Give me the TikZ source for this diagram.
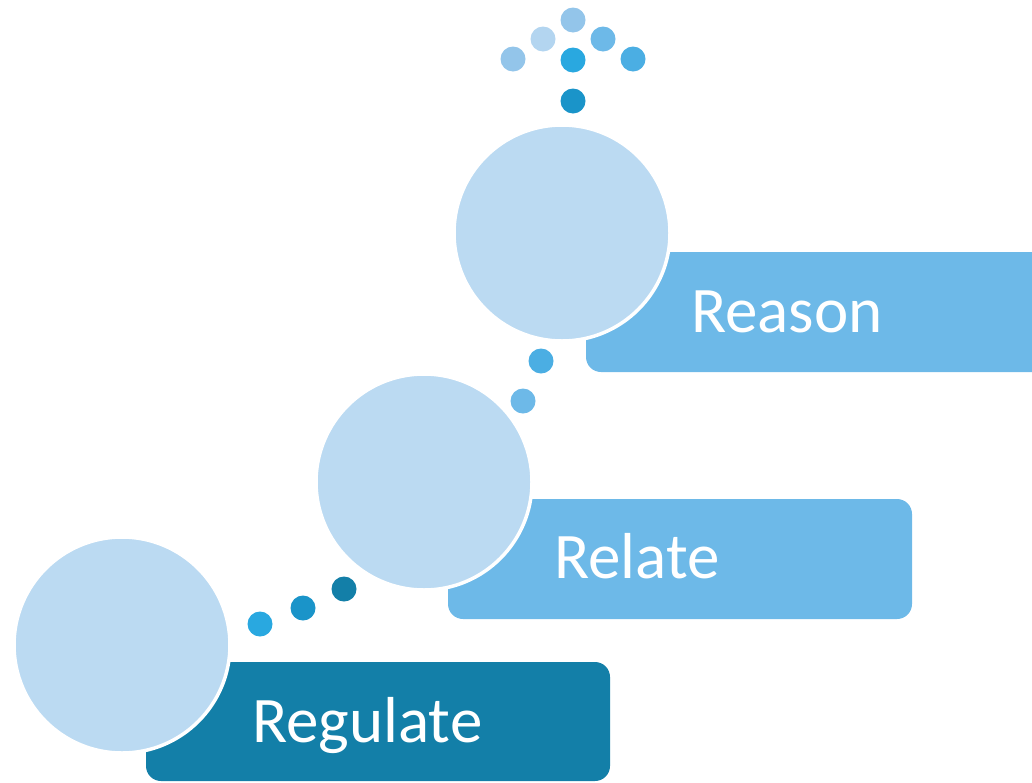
\documentclass[tikz,border=0pt]{standalone}
\usepackage{fontspec}
\setmainfont{Carlito}
\definecolor{deepblue}{HTML}{137FA8}
\definecolor{midblue}{HTML}{1A94C9}
\definecolor{brightblue}{HTML}{29A8E0}
\definecolor{skyblue}{HTML}{4BAEE3}
\definecolor{softblue}{HTML}{6DB9E8}
\definecolor{paleblue}{HTML}{93C5EA}
\definecolor{mistblue}{HTML}{B3D5F0}
\definecolor{discblue}{HTML}{BBDAF2}
\begin{document}
\begin{tikzpicture}[x=1pt,y=-1pt,
  stagebox/.style={rounded corners=15pt},
  disc/.style={circle,fill=discblue,draw=white,line width=3.5pt,minimum size=216pt,inner sep=0pt},
  dot/.style={circle,fill=#1,minimum size=25pt,inner sep=0pt},
  label/.style={text=white,font=\fontsize{65}{70}\selectfont,anchor=base west,inner sep=0pt}]
\useasboundingbox (0,0) rectangle (1032,782);
\clip (0,0) rectangle (1032,782);

% step boxes
\fill[softblue,stagebox] (586,252) rectangle (1060,372);
\fill[softblue,stagebox] (448,499) rectangle (912,619);
\fill[deepblue,stagebox] (146,662) rectangle (610,781);

% stage discs
\node[disc] (reasondisc) at (562,233) {};
\node[disc] (relatedisc) at (424,482) {};
\node[disc] (regulatedisc) at (122,645) {};

% labels
\node[label] (reason) at (691,332) {Reason};
\node[label] (relate) at (554,578) {Relate};
\node[label] (regulate) at (252,742) {Regulate};

% dotted trail between the first two stages
\node[dot=brightblue] (d1) at (260,624) {};
\node[dot=midblue] (d2) at (303,608) {};
\node[dot=deepblue] (d3) at (344,589) {};

% dotted trail between the second and third stages
\node[dot=softblue] (d4) at (523,401) {};
\node[dot=skyblue] (d5) at (541,361) {};

% arrow of dots above the last stage
\node[dot=midblue] (t1) at (573,101) {};
\node[dot=brightblue] (t2) at (573,60) {};
\node[dot=paleblue] (t3) at (573,20) {};
\node[dot=paleblue] (t4) at (513,59) {};
\node[dot=mistblue] (t5) at (543,39) {};
\node[dot=softblue] (t6) at (603,39) {};
\node[dot=skyblue] (t7) at (633,59) {};
\end{tikzpicture}
\end{document}
